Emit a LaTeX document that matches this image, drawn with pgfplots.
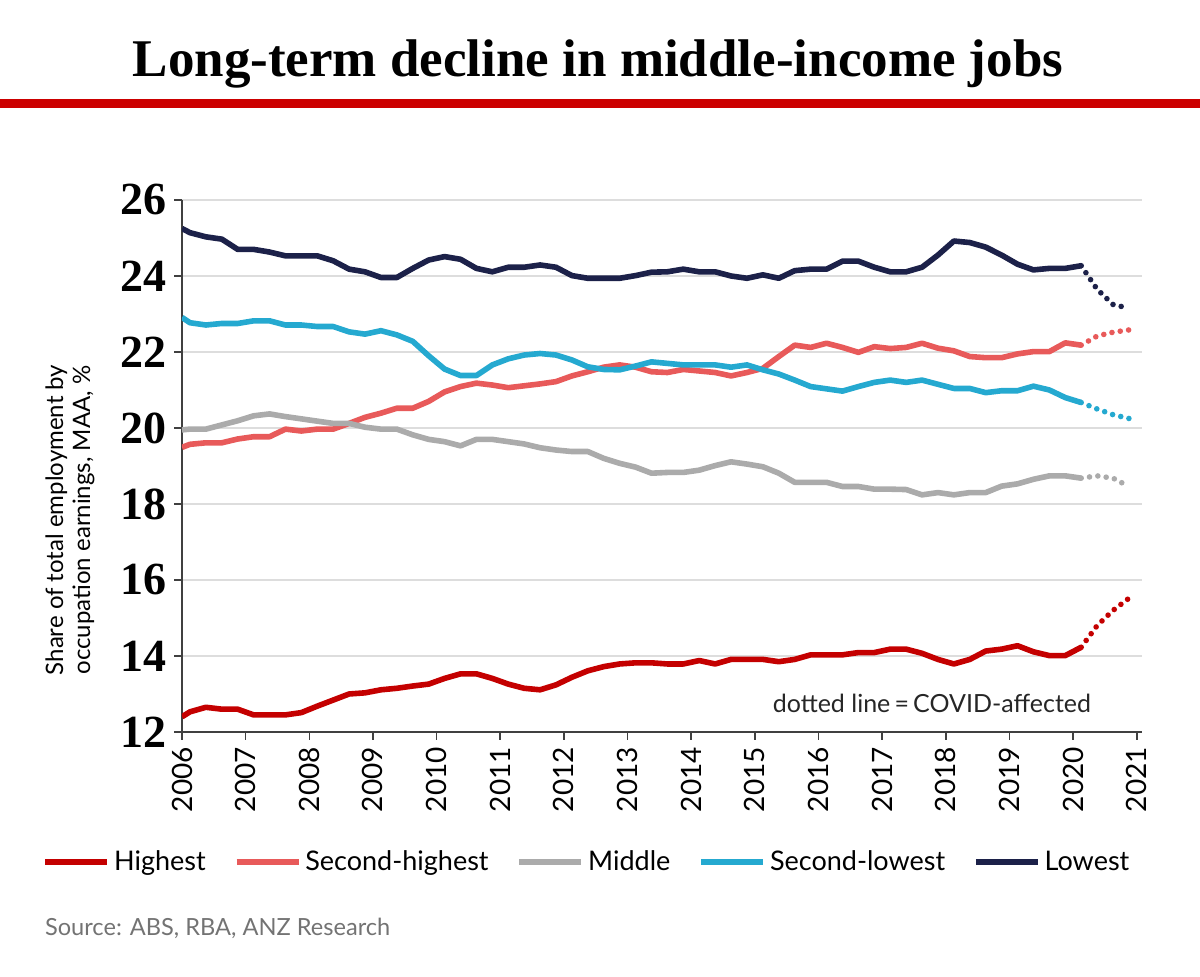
\documentclass[border=0pt]{standalone}
\usepackage{fontspec}
\setmainfont{Lato}
\newfontfamily\titlefont{Liberation Serif}
\usepackage{pgfplots}
\pgfplotsset{compat=1.18}
\usepackage{pgfplotstable}
\definecolor{cHi}{HTML}{C40000}
\definecolor{cShi}{HTML}{E85A5A}
\definecolor{cMid}{HTML}{ABABAB}
\definecolor{cSlo}{HTML}{25A9D0}
\definecolor{cLo}{HTML}{1C2149}
\definecolor{ruleRed}{HTML}{CC0000}
\definecolor{gridGray}{HTML}{DDDDDD}
\definecolor{axGray}{HTML}{404040}

\pgfplotstableread{
x hi shi mid slo lo
2006.000 12.40 19.49 19.95 22.91 25.25
2006.125 12.53 19.57 19.97 22.77 25.14
2006.375 12.65 19.61 19.97 22.71 25.03
2006.625 12.60 19.61 20.08 22.75 24.97
2006.875 12.60 19.71 20.19 22.75 24.70
2007.125 12.45 19.77 20.32 22.82 24.70
2007.375 12.45 19.77 20.37 22.82 24.63
2007.625 12.45 19.97 20.30 22.71 24.53
2007.875 12.51 19.92 20.24 22.71 24.53
2008.125 12.68 19.97 20.18 22.67 24.53
2008.375 12.84 19.97 20.12 22.67 24.40
2008.625 13.00 20.12 20.12 22.53 24.18
2008.875 13.03 20.28 20.02 22.47 24.11
2009.125 13.11 20.39 19.97 22.56 23.96
2009.375 13.15 20.52 19.97 22.45 23.96
2009.625 13.21 20.52 19.82 22.28 24.20
2009.875 13.26 20.70 19.70 21.90 24.42
2010.125 13.41 20.95 19.64 21.55 24.51
2010.375 13.53 21.09 19.53 21.38 24.44
2010.625 13.53 21.18 19.70 21.38 24.20
2010.875 13.41 21.13 19.70 21.66 24.11
2011.125 13.26 21.06 19.64 21.82 24.23
2011.375 13.15 21.11 19.58 21.92 24.23
2011.625 13.11 21.16 19.48 21.96 24.29
2011.875 13.24 21.22 19.42 21.92 24.23
2012.125 13.44 21.37 19.38 21.79 24.01
2012.375 13.61 21.48 19.38 21.61 23.94
2012.625 13.72 21.60 19.20 21.54 23.94
2012.875 13.79 21.66 19.07 21.53 23.94
2013.125 13.82 21.60 18.97 21.63 24.01
2013.375 13.82 21.48 18.81 21.74 24.10
2013.625 13.79 21.46 18.83 21.70 24.11
2013.875 13.79 21.54 18.83 21.66 24.18
2014.125 13.88 21.50 18.89 21.66 24.11
2014.375 13.79 21.46 19.01 21.66 24.11
2014.625 13.91 21.37 19.11 21.60 24.00
2014.875 13.91 21.46 19.05 21.66 23.94
2015.125 13.91 21.57 18.98 21.53 24.03
2015.375 13.85 21.88 18.81 21.42 23.94
2015.625 13.91 22.18 18.57 21.26 24.14
2015.875 14.03 22.12 18.57 21.09 24.18
2016.125 14.03 22.23 18.57 21.03 24.18
2016.375 14.03 22.12 18.46 20.97 24.39
2016.625 14.09 21.99 18.46 21.09 24.39
2016.875 14.09 22.14 18.39 21.20 24.23
2017.125 14.18 22.09 18.39 21.26 24.11
2017.375 14.18 22.12 18.38 21.20 24.11
2017.625 14.07 22.23 18.24 21.26 24.23
2017.875 13.91 22.10 18.30 21.15 24.55
2018.125 13.79 22.03 18.24 21.04 24.92
2018.375 13.91 21.88 18.30 21.04 24.88
2018.625 14.13 21.85 18.30 20.93 24.76
2018.875 14.18 21.85 18.47 20.98 24.55
2019.125 14.27 21.95 18.53 20.98 24.31
2019.375 14.11 22.01 18.65 21.10 24.16
2019.625 14.01 22.01 18.74 21.00 24.20
2019.875 14.01 22.24 18.74 20.80 24.20
2020.125 14.23 22.18 18.68 20.67 24.27
}\solidtab

\pgfplotstableread{
x hi shi mid slo lo
2020.125 14.23 22.18 18.68 20.67 24.27
2020.375 14.80 22.42 18.74 20.50 23.65
2020.625 15.20 22.52 18.68 20.35 23.25
2020.875 15.52 22.58 18.46 20.25 23.15
}\dottab

\begin{document}
\begin{tikzpicture}
\path[use as bounding box] (0pt,0pt) rectangle (600pt,488.5pt);
\node[anchor=base, font=\titlefont\bfseries\fontsize{26.5}{30}\selectfont] at (299pt,450pt) {Long-term decline in middle-income jobs};
\fill[ruleRed] (0pt,434.5pt) rectangle (600pt,439pt);
\begin{axis}[
  at={(91pt,122.5pt)}, anchor=south west,
  scale only axis, width=480pt, height=266pt,
  xmin=2006, xmax=2021.08, ymin=12, ymax=26,
  axis x line*=bottom, axis y line*=left,
  axis line style={axGray, line width=0.8pt},
  xtick={2006,2007,...,2021},
  ytick={12,14,...,26},
  tick align=outside,
  major tick length=4pt,
  tick style={axGray, line width=0.8pt},
  ymajorgrids, grid style={gridGray, line width=1pt},
  /pgf/number format/assume math mode=true,
  xticklabel style={rotate=90, anchor=east, font=\fontsize{14}{16}\selectfont, /pgf/number format/1000 sep={}},
  yticklabel style={font=\titlefont\bfseries\fontsize{23}{23}\selectfont},
  legend columns=5,
  legend style={at={(-0.152,-0.2444)}, anchor=west, draw=none, fill=none,
    font=\fontsize{13.5}{15}\selectfont,
    /tikz/every even column/.append style={column sep=12pt}},
  legend cell align=left,
  legend image code/.code={\draw[#1] (0pt,0pt) -- (31pt,0pt);},
  every axis plot/.append style={line width=2.8pt, line join=round},
]
\addplot[cHi] table[x=x,y=hi] {\solidtab};
\addlegendentry{Highest}
\addplot[cShi] table[x=x,y=shi] {\solidtab};
\addlegendentry{Second-highest}
\addplot[cMid] table[x=x,y=mid] {\solidtab};
\addlegendentry{Middle}
\addplot[cSlo] table[x=x,y=slo] {\solidtab};
\addlegendentry{Second-lowest}
\addplot[cLo] table[x=x,y=lo] {\solidtab};
\addlegendentry{Lowest}
\addplot[forget plot, cHi, line cap=round, dash pattern=on 0pt off 4.2pt] table[x=x,y=hi] {\dottab};
\addplot[forget plot, cShi, line cap=round, dash pattern=on 0pt off 4.2pt] table[x=x,y=shi] {\dottab};
\addplot[forget plot, cMid, line cap=round, dash pattern=on 0pt off 4.2pt] table[x=x,y=mid] {\dottab};
\addplot[forget plot, cSlo, line cap=round, dash pattern=on 0pt off 4.2pt] table[x=x,y=slo] {\dottab};
\addplot[forget plot, cLo, line cap=round, dash pattern=on 0pt off 4.2pt] table[x=x,y=lo] {\dottab};
\node[font=\fontsize{12.5}{14}\selectfont, text=black!85] at (axis cs:2017.78,12.76) {dotted line\,=\,COVID-affected};
\end{axis}
\node[rotate=90, align=center, font=\fontsize{12}{13.5}\selectfont] at (35pt,228.5pt) {Share of total employment by\\occupation earnings, MAA, \%};
\node[anchor=west, font=\fontsize{11.8}{13}\selectfont, text=black!55] at (19pt,24.5pt) {Source: ABS, RBA, ANZ Research};
\end{tikzpicture}
\end{document}
